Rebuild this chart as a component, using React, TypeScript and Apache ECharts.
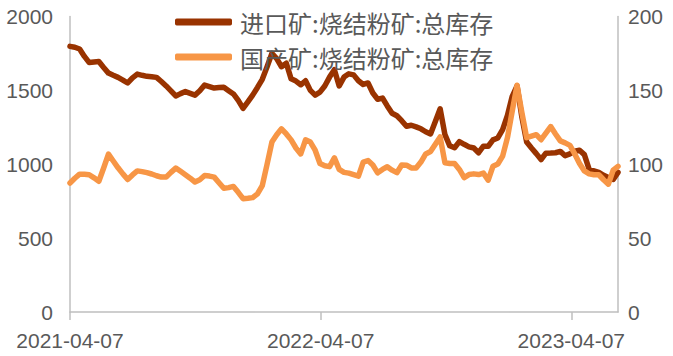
import React, { useEffect, useRef } from "react";
import * as echarts from "echarts";

const START_DATE = "2021-04-07";
const WEEK_COUNT = 115;

const seriesNames = ["进口矿:烧结粉矿:总库存", "国产矿:烧结粉矿:总库存"];

// 进口矿 (left axis)
const importedStock = [
  1798, 1792, 1780, 1730, 1688, 1692, 1695, 1655, 1617, 1602,
  1588, 1570, 1550, 1585, 1610, 1602, 1595, 1592, 1588, 1560,
  1530, 1497, 1462, 1478, 1492, 1480, 1468, 1497, 1536, 1526,
  1516, 1519, 1521, 1498, 1476, 1432, 1378, 1422, 1468, 1520,
  1575, 1660, 1750, 1715, 1660, 1684, 1578, 1563, 1538, 1565,
  1500, 1468, 1488, 1530, 1590, 1640, 1530, 1590, 1612, 1605,
  1565, 1540, 1550, 1482, 1440, 1448, 1395, 1345, 1328, 1295,
  1257, 1264, 1253, 1240, 1220, 1205, 1290, 1375, 1200, 1125,
  1112, 1153, 1135, 1118, 1110, 1078, 1122, 1122, 1165, 1178,
  1235, 1330, 1460, 1530, 1320, 1150, 1110, 1072, 1032, 1075,
  1076, 1078, 1087, 1058, 1070, 1088, 1095, 1065, 965, 955,
  945, 925, 910, 897, 945,
];

// 国产矿 (right axis)
const domesticStock = [
  87.3, 90.5, 93.3, 93.2, 92.9, 90.8, 88.5, 97.5, 106.8, 102.2,
  97.6, 93.5, 89.7, 92.8, 95.5, 95.0, 94.3, 93.4, 92.2, 91.3,
  91.3, 94.5, 97.4, 95.2, 92.9, 90.6, 88.0, 89.5, 92.4, 92.0,
  91.3, 87.5, 83.7, 84.2, 85.0, 81.0, 76.7, 77.0, 77.4, 80.0,
  85.5, 100.0, 115.0, 120.0, 124.0, 120.5, 116.5, 111.0, 107.0, 116.5,
  115.0, 109.5, 100.5, 99.0, 98.4, 104.3, 96.5, 94.5, 94.0, 93.0,
  92.0, 101.5, 102.5, 99.5, 94.2, 96.5, 98.3, 96.0, 94.3, 99.5,
  99.4, 97.5, 97.5, 101.5, 107.0, 108.6, 113.5, 118.5, 101.0, 100.5,
  100.5, 96.5, 91.0, 93.0, 93.5, 93.0, 94.0, 89.2, 98.7, 100.2,
  105.5, 118.0, 136.0, 153.5, 135.0, 118.0, 119.0, 120.0, 116.6, 121.0,
  125.5, 120.5, 115.8, 114.5, 112.8, 107.0, 100.5, 95.5, 93.5, 92.9,
  92.9, 89.5, 86.5, 96.0, 98.6,
];

const leftTicks = { min: 0, max: 2000, interval: 500 };
const rightTicks = { min: 0, max: 200, interval: 50 };
const X_LABEL_INTERVAL_DAYS = 365;

const DAY_MS = 86400000;

function pad(n: number) {
  return n < 10 ? "0" + n : "" + n;
}
function parse(dateStr: string) {
  const [y, m, d] = dateStr.split("-").map(Number);
  return Date.UTC(y, m - 1, d);
}
const startMs = parse(START_DATE);
function fmt(ms: number) {
  const d = new Date(ms);
  return d.getUTCFullYear() + "-" + pad(d.getUTCMonth() + 1) + "-" + pad(d.getUTCDate());
}
function dayOffset(dateStr: string) {
  return Math.round((parse(dateStr) - startMs) / DAY_MS);
}
function offsetToDate(off: number) {
  const years = Math.round(off / X_LABEL_INTERVAL_DAYS);
  const d = new Date(startMs);
  return d.getUTCFullYear() + years + "-" + pad(d.getUTCMonth() + 1) + "-" + pad(d.getUTCDate());
}

const dates: string[] = [];
for (let i = 0; i < WEEK_COUNT; i++) dates.push(fmt(startMs + i * 7 * DAY_MS));

export default function App() {
  const ref = useRef<HTMLDivElement>(null);
  useEffect(() => {
    if (!ref.current) return;
    const chart = echarts.init(ref.current, undefined, { renderer: "svg" });
    const gray = "#595959";
    const axisGray = "#BFBFBF";
    const lastOff = dayOffset(dates[dates.length - 1]);
    const plain = (v: number) => String(v);
    chart.setOption({
      animation: false,
      backgroundColor: "#ffffff",
      grid: { left: 70, right: 55, top: 16.5, bottom: 44, containLabel: false },
      legend: {
        orient: "vertical",
        left: 175,
        top: 10,
        padding: 0,
        itemWidth: 57,
        itemHeight: 7,
        itemGap: 11,
        icon: "roundRect",
        textStyle: {
          color: gray,
          fontSize: 24,
          lineHeight: 24,
          fontFamily: "Noto Sans CJK SC",
          padding: [0, 0, 0, 3],
        },
        data: seriesNames,
      },
      xAxis: {
        type: "value",
        min: 0,
        max: lastOff,
        interval: X_LABEL_INTERVAL_DAYS,
        splitLine: { show: false },
        axisLine: { show: true, lineStyle: { color: axisGray, width: 1.5 } },
        axisTick: { show: true, length: 8, lineStyle: { color: axisGray, width: 1.5 } },
        axisLabel: {
          color: gray,
          fontSize: 21,
          fontFamily: "Liberation Sans",
          margin: 18,
          showMaxLabel: false,
          formatter: (v: number) => offsetToDate(v),
        },
      },
      yAxis: [
        {
          type: "value",
          ...leftTicks,
          splitLine: { show: false },
          axisLine: { show: true, lineStyle: { color: axisGray, width: 1.5 } },
          axisTick: { show: false },
          axisLabel: { color: gray, fontSize: 21, fontFamily: "Liberation Sans", margin: 17, formatter: plain },
        },
        {
          type: "value",
          ...rightTicks,
          position: "right",
          splitLine: { show: false },
          axisLine: { show: true, lineStyle: { color: axisGray, width: 1.5 } },
          axisTick: { show: false },
          axisLabel: { color: gray, fontSize: 21, fontFamily: "Liberation Sans", margin: 10, formatter: plain },
        },
      ],
      series: [
        {
          name: seriesNames[0],
          type: "line",
          yAxisIndex: 0,
          symbol: "none",
          color: "#993300",
          lineStyle: { width: 5.5, color: "#993300", cap: "round", join: "round" },
          data: dates.map((d, i) => [dayOffset(d), importedStock[i]]),
        },
        {
          name: seriesNames[1],
          type: "line",
          yAxisIndex: 1,
          symbol: "none",
          color: "#F79646",
          lineStyle: { width: 5.5, color: "#F79646", cap: "round", join: "round" },
          data: dates.map((d, i) => [dayOffset(d), domesticStock[i]]),
        },
      ],
    });
    return () => chart.dispose();
  }, []);
  return (
    <div
      ref={ref}
      style={{ position: "fixed", left: 0, top: 0, width: 673, height: 356 }}
    />
  );
}
